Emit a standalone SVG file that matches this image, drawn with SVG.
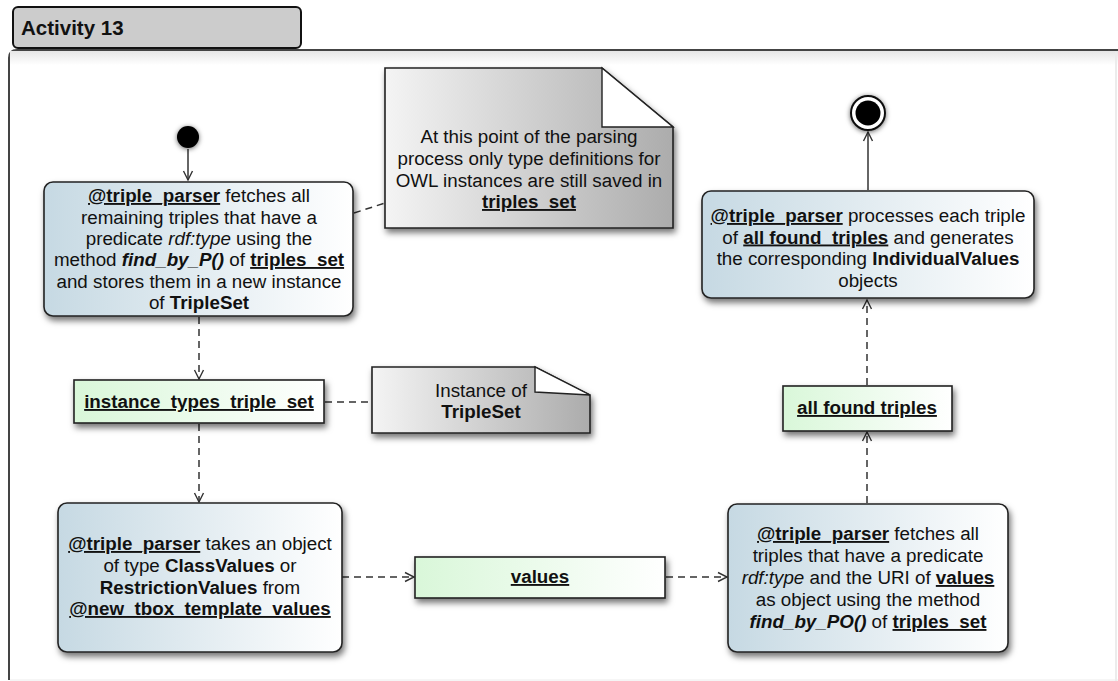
<svg xmlns="http://www.w3.org/2000/svg" width="1118" height="681" viewBox="0 0 1118 681">
  <defs>
    <linearGradient id="actionFill" x1="0" y1="0" x2="1" y2="0">
      <stop offset="0" stop-color="#c6d9e3"/>
      <stop offset="1" stop-color="#ffffff"/>
    </linearGradient>
    <linearGradient id="objectFill" x1="0" y1="0" x2="1" y2="0">
      <stop offset="0" stop-color="#d9f7d9"/>
      <stop offset="1" stop-color="#ffffff"/>
    </linearGradient>
    <linearGradient id="noteFill" x1="0" y1="0" x2="1" y2="0">
      <stop offset="0" stop-color="#f4f4f4"/>
      <stop offset="1" stop-color="#acacac"/>
    </linearGradient>
    <linearGradient id="frameHaze" x1="0" y1="0" x2="0" y2="1">
      <stop offset="0" stop-color="#e6e6e6"/>
      <stop offset="1" stop-color="#ffffff"/>
    </linearGradient>
    <filter id="shadow" x="-20%" y="-20%" width="140%" height="150%">
      <feDropShadow dx="2" dy="4" stdDeviation="3" flood-color="#000" flood-opacity="0.55"/>
    </filter>
    <filter id="glow" x="-50%" y="-50%" width="200%" height="200%">
      <feDropShadow dx="0" dy="1" stdDeviation="2.5" flood-color="#000" flood-opacity="0.6"/>
    </filter>
    <marker id="arrow" markerWidth="12" markerHeight="12" refX="10" refY="6" orient="auto" markerUnits="userSpaceOnUse">
      <path d="M1,1.5 L10,6 L1,10.5" fill="none" stroke="#333" stroke-width="1.4"/>
    </marker>
  </defs>
  <style>
    text { font-family: "Liberation Sans", Arial, sans-serif; fill: #111; }
    .t { font-size: 18.8px; text-anchor: middle; }
    .b { font-weight: bold; }
    .i { font-style: italic; }
    .u { text-decoration: underline; }
    .action { fill: url(#actionFill); stroke: #222; stroke-width: 1.6; filter: url(#shadow); }
    .object { fill: url(#objectFill); stroke: #222; stroke-width: 1.6; filter: url(#shadow); }
    .note { fill: url(#noteFill); stroke: #222; stroke-width: 1.6; filter: url(#shadow); }
    .fold { fill: #ffffff; stroke: #222; stroke-width: 1.4; }
    .flow { fill: none; stroke: #333; stroke-width: 1.5; }
    .dash { fill: none; stroke: #333; stroke-width: 1.5; stroke-dasharray: 7 5; }
  </style>

  <rect width="1118" height="681" fill="#ffffff"/>

  <!-- activity frame -->
  <g id="frame">
    <path d="M9,680 L9,58 Q9,50 17,50 L1130,50" fill="none" stroke="#444" stroke-width="2"/>
    <rect x="10" y="51" width="1108" height="14" fill="url(#frameHaze)"/>
    <line x1="1116" y1="52" x2="1116" y2="681" stroke="#ececec" stroke-width="2"/>
    <line x1="10" y1="680" x2="1118" y2="680" stroke="#ececec" stroke-width="1"/>
    <rect x="13" y="7" width="288" height="41" rx="5" fill="#cccccc" stroke="#111" stroke-width="2"/>
    <text x="21" y="35" font-size="20.5px" class="b">Activity 13</text>
  </g>

  <!-- connectors -->
  <g id="connectors">
    <line class="flow" x1="188" y1="149" x2="188" y2="180" marker-end="url(#arrow)"/>
    <line class="dash" x1="199" y1="317" x2="199" y2="379" marker-end="url(#arrow)"/>
    <line class="dash" x1="199" y1="424" x2="199" y2="502" marker-end="url(#arrow)"/>
    <line class="dash" x1="342" y1="577" x2="414" y2="577" marker-end="url(#arrow)"/>
    <line class="dash" x1="666" y1="577" x2="727" y2="577" marker-end="url(#arrow)"/>
    <line class="dash" x1="867" y1="503" x2="867" y2="432" marker-end="url(#arrow)"/>
    <line class="dash" x1="867" y1="385" x2="867" y2="300" marker-end="url(#arrow)"/>
    <line class="flow" x1="868" y1="190" x2="868" y2="132" marker-end="url(#arrow)"/>
    <line class="dash" x1="354" y1="213" x2="385" y2="203"/>
    <line class="dash" x1="325" y1="402" x2="372" y2="402"/>
  </g>

  <!-- start and end -->
  <g id="start">
    <circle cx="188" cy="137" r="11" fill="#000" filter="url(#glow)"/>
  </g>
  <g id="end">
    <circle cx="868" cy="113" r="17" fill="#fff" stroke="#111" stroke-width="2" filter="url(#glow)"/>
    <circle cx="868" cy="113" r="12.5" fill="#000"/>
  </g>

  <!-- fetch all rdf:type triples -->
  <g id="fetchTypes">
    <rect class="action" x="44" y="182" width="309" height="134" rx="9"/>
    <text class="t" x="199" y="202"><tspan class="b u">@triple_parser</tspan> fetches all</text>
    <text class="t" x="199" y="223.5">remaining triples that have a</text>
    <text class="t" x="199" y="245">predicate <tspan class="i">rdf:type</tspan> using the</text>
    <text class="t" x="199" y="266">method <tspan class="b i">find_by_P()</tspan> of <tspan class="b u">triples_set</tspan></text>
    <text class="t" x="199" y="287.5">and stores them in a new instance</text>
    <text class="t" x="199" y="309">of <tspan class="b">TripleSet</tspan></text>
  </g>

  <!-- note on remaining type definitions -->
  <g id="noteParsing">
    <path class="note" d="M385,68 L602,68 L673,127 L673,228 L385,228 Z"/>
    <path class="fold" d="M602,68 L602,127 L673,127 Z"/>
    <text class="t" x="529" y="143">At this point of the parsing</text>
    <text class="t" x="529" y="165">process only type definitions for</text>
    <text class="t" x="529" y="187">OWL instances are still saved in</text>
    <text class="t" x="529" y="208"><tspan class="b u">triples_set</tspan></text>
  </g>

  <!-- instance_types_triple_set object -->
  <g id="instanceTypes">
    <rect class="object" x="74" y="380" width="250" height="43"/>
    <text class="t b u" x="199" y="408">instance_types_triple_set</text>
  </g>

  <!-- note: instance of TripleSet -->
  <g id="noteTripleSet">
    <path class="note" d="M372,367 L535,367 L590,395 L590,433 L372,433 Z"/>
    <path class="fold" d="M535,367 L535,392 L590,395 Z"/>
    <text class="t" x="481" y="397">Instance of</text>
    <text class="t b" x="481" y="418">TripleSet</text>
  </g>

  <!-- take ClassValues / RestrictionValues -->
  <g id="takeObject">
    <rect class="action" x="58" y="503" width="284" height="149" rx="9"/>
    <text class="t" x="200" y="550"><tspan class="b u">@triple_parser</tspan> takes an object</text>
    <text class="t" x="200" y="571.5">of type <tspan class="b">ClassValues</tspan> or</text>
    <text class="t" x="200" y="593.5"><tspan class="b">RestrictionValues</tspan> from</text>
    <text class="t" x="200" y="615"><tspan class="b u">@new_tbox_template_values</tspan></text>
  </g>

  <!-- values object -->
  <g id="values">
    <rect class="object" x="415" y="557" width="250" height="41"/>
    <text class="t b u" x="540" y="583">values</text>
  </g>

  <!-- fetch triples by predicate and object -->
  <g id="fetchByPO">
    <rect class="action" x="728" y="504" width="280" height="148" rx="9"/>
    <text class="t" x="868" y="540"><tspan class="b u">@triple_parser</tspan> fetches all</text>
    <text class="t" x="868" y="562">triples that have a predicate</text>
    <text class="t" x="868" y="584"><tspan class="i">rdf:type</tspan> and the URI of <tspan class="b u">values</tspan></text>
    <text class="t" x="868" y="606">as object using the method</text>
    <text class="t" x="868" y="628"><tspan class="b i">find_by_PO()</tspan> of <tspan class="b u">triples_set</tspan></text>
  </g>

  <!-- all found triples object -->
  <g id="allFound">
    <rect class="object" x="783" y="386" width="169" height="45"/>
    <text class="t b u" x="867" y="414">all found triples</text>
  </g>

  <!-- generate IndividualValues -->
  <g id="processTriples">
    <rect class="action" x="702" y="191" width="332" height="107" rx="9"/>
    <text class="t" x="868" y="222"><tspan class="b u">@triple_parser</tspan> processes each triple</text>
    <text class="t" x="868" y="243.5">of <tspan class="b u">all found_triples</tspan> and generates</text>
    <text class="t" x="868" y="265">the corresponding <tspan class="b">IndividualValues</tspan></text>
    <text class="t" x="868" y="286.5">objects</text>
  </g>
</svg>
